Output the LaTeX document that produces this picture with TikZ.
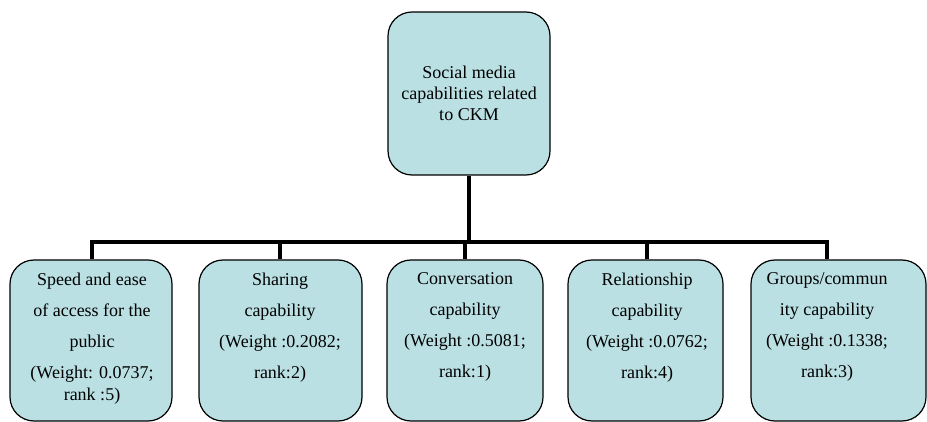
\documentclass[tikz,border=0pt]{standalone}
\usepackage{fontspec}
\setmainfont{Liberation Serif}
\definecolor{capfill}{RGB}{186,224,227}
\tikzset{
  capbox/.style={draw, line width=1.2pt, fill=capfill, rounded corners=24pt, inner sep=0pt, minimum height=161pt},
  captext/.style={anchor=north, align=center, inner sep=0pt, font=\fontsize{18}{31}\selectfont},
  link/.style={line width=3.6pt}
}
\begin{document}
\begin{tikzpicture}[x=1pt, y=-1pt]
  \useasboundingbox (0, 0) rectangle (927, 422) ;
  \node[capbox, minimum width=162pt, minimum height=163pt, align=center, font=\fontsize{18}{21}\selectfont] (root) at (469, 93.5) {Social media\\capabilities related\\to CKM} ;
  \coordinate (bar) at (469, 242) ;
  \node[capbox, minimum width=162pt] (speed) at (91, 340.5) {} ;
  \node[capbox, minimum width=163pt] (sharing) at (280.5, 340.5) {} ;
  \node[capbox, minimum width=156pt] (conversation) at (465, 340.5) {} ;
  \node[capbox, minimum width=155pt] (relationship) at (645.5, 340.5) {} ;
  \node[capbox, minimum width=175pt] (groups) at (838.5, 340.5) {} ;
  \node[captext] (speedtext) at (92, 272.6) {Speed and ease\\of access for the\\public\\(Weight: 0.0737;\\[-9pt]rank :5)} ;
  \node[captext] (sharingtext) at (280, 272.6) {Sharing\\capability\\(Weight :0.2082;\\rank:2)} ;
  \node[captext] (conversationtext) at (465, 272.6) {Conversation\\capability\\(Weight :0.5081;\\rank:1)} ;
  \node[captext] (relationshiptext) at (647, 272.6) {Relationship\\capability\\(Weight :0.0762;\\rank:4)} ;
  \node[captext] (groupstext) at (827, 272.6) {Groups/commun\\ity capability\\(Weight :0.1338;\\rank:3)} ;
  \draw[link] (root.south) -- (bar) ;
  \draw[link] (bar) -| (speedtext.north |- speed.north) ;
  \draw[link] (bar) -| (sharingtext.north |- sharing.north) ;
  \draw[link] (bar) -| (conversationtext.north |- conversation.north) ;
  \draw[link] (bar) -| (relationshiptext.north |- relationship.north) ;
  \draw[link] (bar) -| (groupstext.north |- groups.north) ;
\end{tikzpicture}
\end{document}
